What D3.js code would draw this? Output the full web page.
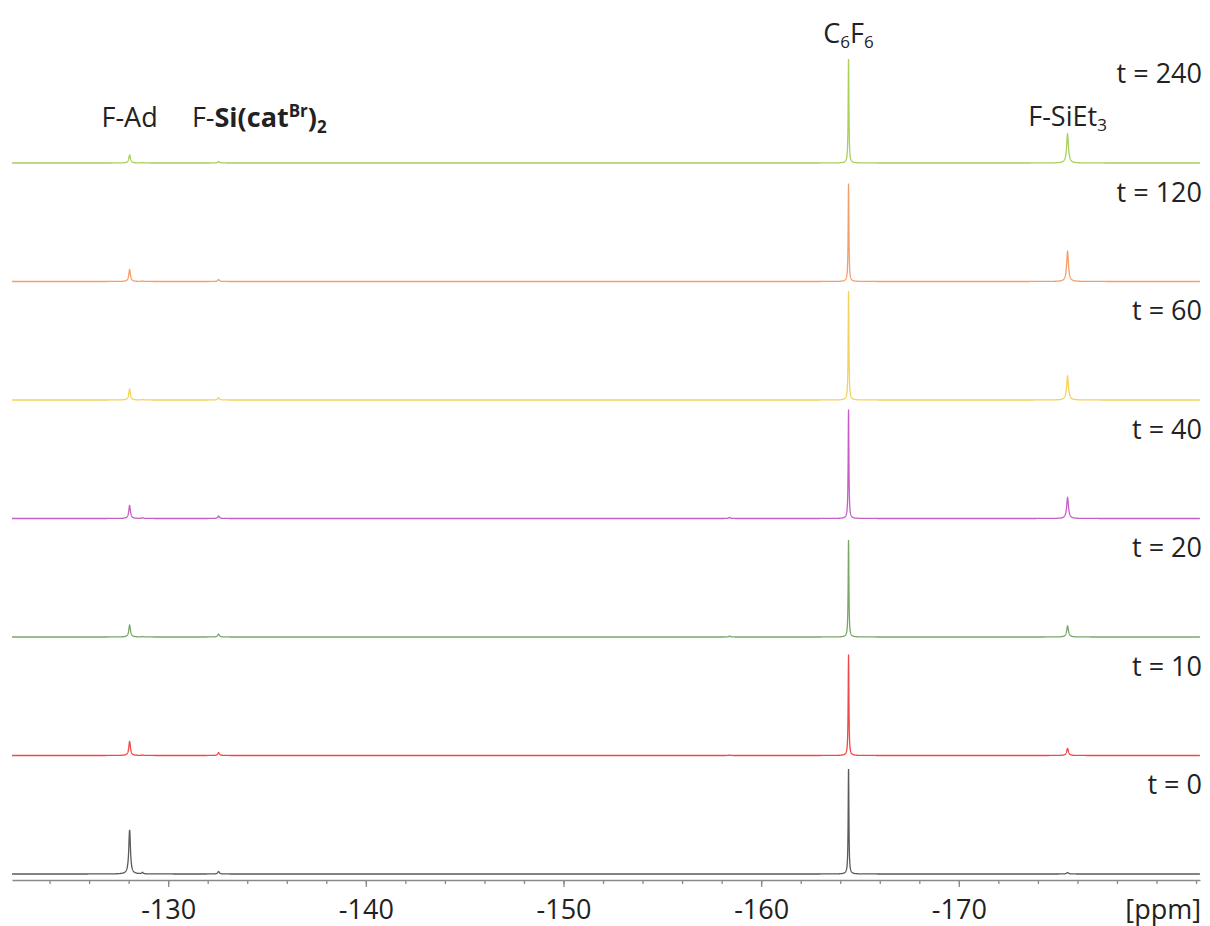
<!DOCTYPE html>
<meta charset="utf-8">
<head>
    <title>19F NMR time series</title>
</head>

<style>
    body {
        margin: 0;
        background-color: #ffffff;
        font-family: "Open Sans", Lato, Arial;
    }

    .axis path,
    .axis line {
        fill: none;
        stroke: #8a8a8a;
        stroke-width: 1.3px;
    }

    .axis text {
        font-family: "Open Sans", Lato, Arial;
        font-size: 27px;
        fill: #222222;
    }

    .spectrum {
        fill: none;
        stroke-width: 1.3px;
    }

    text.lbl {
        font-size: 27px;
        fill: #222222;
    }
</style>

<body>
    <svg width="1210" height="926"></svg>
</body>

<script src="https://d3js.org/d3.v7.min.js"></script>

<script>
    // spectra, top to bottom
    var times = ["t = 240", "t = 120", "t = 60", "t = 40", "t = 20", "t = 10", "t = 0"];
    var colors = ["#a8d05a", "#f2a06a", "#f5d25a", "#c65ec6", "#7aa66a", "#ee4848", "#5a5a5a"];

    // peak positions (ppm) and half widths (ppm)
    var peakPpm = [-128.05, -128.7, -132.55, -158.4, -164.42, -175.5];
    var peakHw = [0.05, 0.04, 0.05, 0.04, 0.022, 0.055];

    // peak heights per spectrum (same order as times)
    var hFAd = [8, 12, 11, 13, 12, 14, 44];
    var hImp = [0.5, 0.5, 0.5, 0.8, 0.5, 0.5, 1.5];
    var hFSiCat = [1.5, 2, 2.5, 2.5, 3, 3, 2.5];
    var hSmall = [0, 0, 0, 1.2, 1, 0.5, 0];
    var hC6F6 = [104, 98, 109, 109, 97, 101, 105];
    var hFSiEt3 = [29, 30, 24, 21, 11, 7, 1.5];

    var heights = [hFAd, hImp, hFSiCat, hSmall, hC6F6, hFSiEt3];

    var majorTicks = [-130, -140, -150, -160, -170];
    var minorTicks = d3.range(-124, -183, -2);

    var svg = d3.select("svg");

    var x = d3.scaleLinear()
        .domain([-122.1, -182.2])
        .range([12, 1200]);

    var yBase = d3.scalePoint()
        .domain(times)
        .range([163, 874]);

    var yInt = d3.scaleLinear()
        .domain([0, 100])
        .range([0, 100]);

    // lorentzian line shape for each spectrum
    var grid = d3.range(-122.1, -182.2, -0.005);

    function intensity(ppm, i) {
        var s = 0;
        peakPpm.forEach(function (p, k) {
            var h = heights[k][i];
            var w = peakHw[k];
            var d = (ppm - p) / w;
            s += h / (1 + d * d);
        });
        return s;
    }

    var line = d3.line()
        .x(d => x(d[0]))
        .y(d => d[1]);

    times.forEach(function (t, i) {
        var pts = grid.map(p => [p, yBase(t) - yInt(intensity(p, i))]);
        svg.append("path")
            .attr("class", "spectrum")
            .attr("stroke", colors[i])
            .attr("d", line(pts));

        svg.append("text")
            .attr("class", "lbl")
            .attr("x", 1202)
            .attr("y", yBase(t) - 80)
            .attr("text-anchor", "end")
            .text(t);
    });

    // axis
    var axisY = 880;

    svg.append("g")
        .attr("class", "axis")
        .attr("transform", "translate(0," + axisY + ")")
        .call(d3.axisBottom(x).tickValues(minorTicks).tickSize(4).tickSizeOuter(0).tickFormat(""));

    var major = svg.append("g")
        .attr("class", "axis")
        .attr("transform", "translate(0," + axisY + ")")
        .call(d3.axisBottom(x).tickValues(majorTicks).tickSize(7).tickSizeOuter(0).tickFormat(d3.format("d")));

    major.select(".domain").remove();
    major.selectAll("text")
        .attr("dy", null)
        .attr("y", 39)
        .text(d => "-" + Math.abs(d));

    svg.append("text")
        .attr("class", "lbl")
        .attr("x", 1201)
        .attr("y", 919)
        .attr("text-anchor", "end")
        .text("[ppm]");

    // peak labels
    svg.append("text")
        .attr("class", "lbl")
        .attr("x", x(-128.05))
        .attr("y", 127)
        .attr("text-anchor", "middle")
        .text("F-Ad");

    var cat = svg.append("text")
        .attr("class", "lbl")
        .attr("x", x(-131.2))
        .attr("y", 127);
    cat.append("tspan").text("F-");
    cat.append("tspan").attr("font-weight", 700).text("Si(cat");
    cat.append("tspan").attr("font-weight", 700).attr("font-size", "17px").attr("dy", -10).text("Br");
    cat.append("tspan").attr("font-weight", 700).attr("dy", 10).text(")");
    cat.append("tspan").attr("font-weight", 700).attr("font-size", "17px").attr("dy", 6).text("2");

    var c6 = svg.append("text")
        .attr("class", "lbl")
        .attr("x", x(-164.42))
        .attr("y", 43)
        .attr("text-anchor", "middle");
    c6.append("tspan").text("C");
    c6.append("tspan").attr("font-size", "17px").attr("dy", 5).text("6");
    c6.append("tspan").attr("dy", -5).text("F");
    c6.append("tspan").attr("font-size", "17px").attr("dy", 5).text("6");

    var et = svg.append("text")
        .attr("class", "lbl")
        .attr("x", x(-175.5))
        .attr("y", 126)
        .attr("text-anchor", "middle");
    et.append("tspan").text("F-SiEt");
    et.append("tspan").attr("font-size", "17px").attr("dy", 5).text("3");
</script>
